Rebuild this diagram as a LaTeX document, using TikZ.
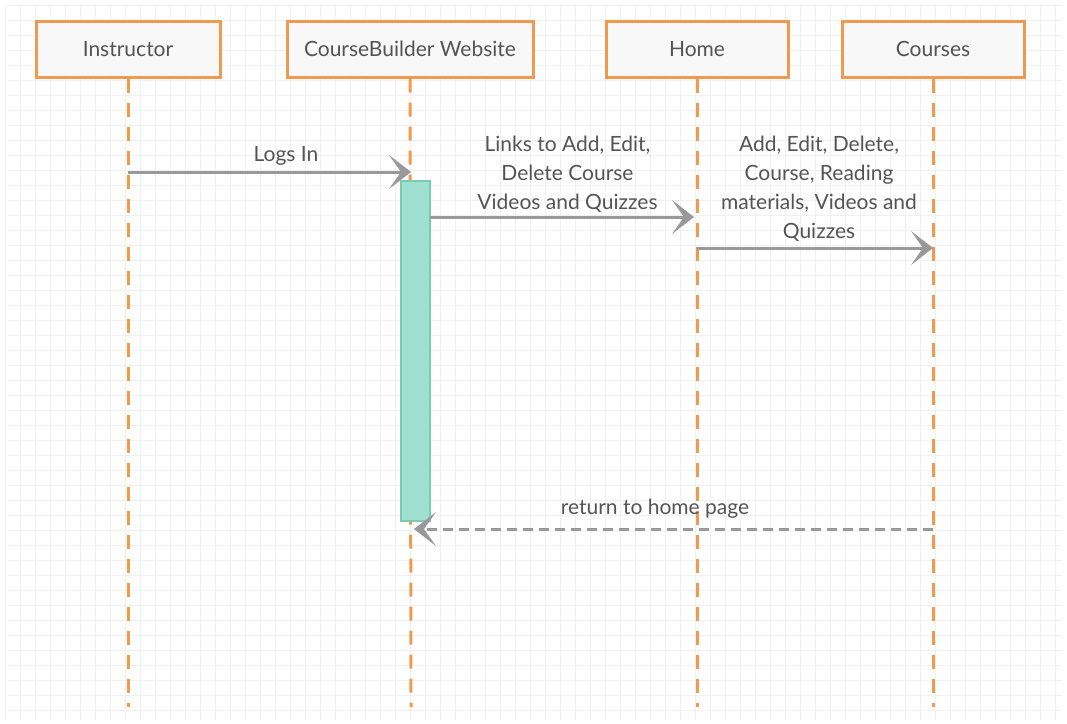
\documentclass[tikz,border=0pt]{standalone}
\usepackage{fontspec}
\setmainfont{Lato}
\usetikzlibrary{arrows.meta}

\definecolor{LifeColor}{rgb}{0.941,0.600,0.310}
\definecolor{BoxColor}{rgb}{0.973,0.973,0.973}
\definecolor{ActiveColor}{rgb}{0.627,0.878,0.816}
\definecolor{ActiveLine}{rgb}{0.490,0.792,0.706}
\definecolor{MsgColor}{rgb}{0.600,0.600,0.600}
\definecolor{TextColor}{rgb}{0.330,0.330,0.330}
\definecolor{GridColor}{rgb}{0.940,0.940,0.940}

\tikzstyle{actor}=[rectangle,
                    draw=LifeColor,
                    line width=3pt,
                    fill=BoxColor,
                    minimum height=56pt,
                    text=TextColor,
                    font=\fontsize{21}{25}\selectfont,
                    text centered]
\tikzstyle{lifeline}=[draw=LifeColor, line width=3pt, dash pattern=on 14pt off 10pt]
\tikzstyle{activation}=[rectangle, draw=ActiveLine, line width=2.5pt, fill=ActiveColor,
                    minimum width=29pt, minimum height=340pt, inner sep=0pt]
\tikzstyle{msg}=[draw=MsgColor, line width=3pt,
                    -{Stealth[length=22pt, width=34pt, inset=12pt]}]
\tikzstyle{reply}=[msg, dash pattern=on 10pt off 6pt]
\tikzstyle{msglabel}=[text=TextColor, align=center, inner sep=0pt,
                    font=\fontsize{21}{29}\selectfont]

\begin{document}
\begin{tikzpicture}[x=1pt, y=-1pt]
    \useasboundingbox (0,0) rectangle (1067,723);

    % background grid
    \foreach \gx in {5.7,20.7,...,1065} \draw[GridColor, line width=0.6pt] (\gx,5) -- (\gx,720);
    \foreach \gy in {5,20,...,722} \draw[GridColor, line width=0.6pt] (8,\gy) -- (1062,\gy);

    \node at (128.0, 49.0) (instructor) [actor, minimum width=184pt] {Instructor};
    \node at (410.0, 49.0) (website)    [actor, minimum width=246pt] {CourseBuilder Website};
    \node at (697.0, 49.0) (home)       [actor, minimum width=182pt] {Home};
    \node at (933.0, 49.0) (courses)    [actor, minimum width=182pt] {Courses};

    \coordinate (instructor_end) at (128, 707);
    \coordinate (website_end)    at (411, 707);
    \coordinate (home_end)       at (697, 707);
    \coordinate (courses_end)    at (933, 707);

    \draw[lifeline] (instructor.south) -- (instructor_end);
    \draw[lifeline] (website.south)    -- (website_end);
    \draw[lifeline] (home.south)       -- (home_end);
    \draw[lifeline] (courses.south)    -- (courses_end);

    \node at (415.5, 351.0) (session) [activation] {};

    \coordinate (login_from)  at (128, 172);
    \coordinate (login_to)    at (411, 172);
    \coordinate (links_from)  at (430, 217);
    \coordinate (links_to)    at (694, 217);
    \coordinate (manage_from) at (697, 248);
    \coordinate (manage_to)   at (933, 248);
    \coordinate (return_from) at (933, 529);
    \coordinate (return_to)   at (414, 529);

    \draw[msg]   (login_from)  -- (login_to);
    \draw[msg]   (links_from)  -- (links_to);
    \draw[msg]   (manage_from) -- (manage_to);
    \draw[reply] (return_from) -- (return_to);

    \node at (286.0, 155.5) (login_label)  [msglabel] {Logs In};
    \node at (567.5, 174.5) (links_label)  [msglabel] {Links to Add, Edit,\\Delete Course\\Videos and Quizzes};
    \node at (819.0, 189.0) (manage_label) [msglabel] {Add, Edit, Delete,\\Course, Reading\\materials, Videos and\\Quizzes};
    \node at (655.0, 508.5) (return_label) [msglabel] {return to home page};
  \end{tikzpicture}
\end{document}
